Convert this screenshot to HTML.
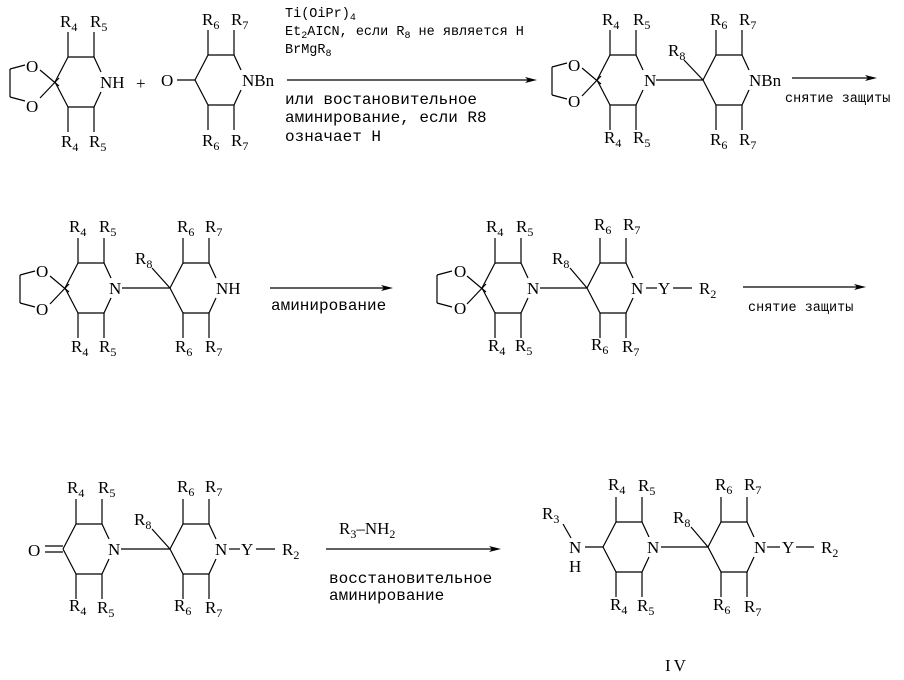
<!DOCTYPE html>
<html><head><meta charset="utf-8"><style>
html,body{margin:0;padding:0;background:#fff;}
svg{display:block}
.s{font-family:"Liberation Serif",serif;font-size:17px;fill:#000}
.m{font-family:"Liberation Mono",monospace;fill:#000}
line,polyline{stroke:#000;stroke-width:1.2;fill:none}
</style></head><body>
<svg width="904" height="680" viewBox="0 0 904 680" xmlns="http://www.w3.org/2000/svg">
<defs>
<g id="ring">
<line x1="0" y1="0" x2="13" y2="-25"/><line x1="13" y1="-25" x2="39" y2="-25"/><line x1="39" y1="-25" x2="46" y2="-10"/>
<line x1="0" y1="0" x2="13" y2="25"/><line x1="13" y1="25" x2="39" y2="25"/><line x1="39" y1="25" x2="46" y2="10"/>
<line x1="13" y1="-25" x2="13" y2="-50"/><line x1="39" y1="-25" x2="39" y2="-50"/>
<line x1="13" y1="25" x2="13" y2="50"/><line x1="39" y1="25" x2="39" y2="50"/>
</g>
<g id="diox">
<line x1="-15" y1="-12" x2="4" y2="4"/><line x1="-15" y1="16" x2="4" y2="-4"/>
<line x1="-45" y1="-13" x2="-45" y2="15"/><line x1="-45" y1="-13" x2="-30" y2="-17"/><line x1="-45" y1="15" x2="-30" y2="19"/>
</g>
<g id="arr"><polygon points="0,0 -12,-3 -9,0 -12,3" fill="#000"/></g>
</defs>

<!-- Ring A -->
<use href="#ring" x="55" y="82"/><use href="#diox" x="55" y="82"/>
<text class="s" x="26" y="72">O</text><text class="s" x="26" y="112">O</text>
<text class="s" x="100" y="88">NH</text>
<text class="s" x="60" y="27">R<tspan font-size="12" dy="4">4</tspan></text>
<text class="s" x="90" y="27">R<tspan font-size="12" dy="4">5</tspan></text>
<text class="s" x="61" y="147">R<tspan font-size="12" dy="4">4</tspan></text>
<text class="s" x="89" y="147">R<tspan font-size="12" dy="4">5</tspan></text>
<text class="s" x="136" y="89" font-size="20">+</text>

<!-- Ring B -->
<use href="#ring" x="195" y="80"/>
<text class="s" x="161" y="86">O</text><line x1="177" y1="80" x2="195" y2="80"/>
<text class="s" x="242" y="86">NBn</text>
<text class="s" x="202" y="25">R<tspan font-size="12" dy="4">6</tspan></text>
<text class="s" x="231" y="25">R<tspan font-size="12" dy="4">7</tspan></text>
<text class="s" x="202" y="146">R<tspan font-size="12" dy="4">6</tspan></text>
<text class="s" x="231" y="146">R<tspan font-size="12" dy="4">7</tspan></text>

<!-- Arrow 1 -->
<line x1="287" y1="80" x2="533" y2="80"/><use href="#arr" x="537" y="80"/>
<text class="m" font-size="13.5" x="285" y="17">Ti(OiPr)<tspan font-size="10" dy="3">4</tspan></text>
<text class="m" font-size="13.5" x="285" y="35">Et<tspan font-size="10" dy="3">2</tspan><tspan dy="-3">AICN, если R</tspan><tspan font-size="10" dy="3">8</tspan><tspan dy="-3"> не является H</tspan></text>
<text class="m" font-size="13.5" x="285" y="53">BrMgR<tspan font-size="10" dy="3">8</tspan></text>
<text class="m" font-size="16" x="285" y="104">или востановительное</text>
<text class="m" font-size="16" x="285" y="122">аминирование, если R8</text>
<text class="m" font-size="16" x="285" y="141">означает H</text>

<!-- Ring C,D -->
<use href="#ring" x="597" y="80"/><use href="#diox" x="597" y="80"/>
<text class="s" x="568" y="71">O</text><text class="s" x="568" y="107">O</text>
<text class="s" x="644" y="86">N</text>
<line x1="656" y1="80" x2="703" y2="80"/>
<text class="s" x="602" y="25">R<tspan font-size="12" dy="4">4</tspan></text>
<text class="s" x="633" y="25">R<tspan font-size="12" dy="4">5</tspan></text>
<text class="s" x="604" y="143">R<tspan font-size="12" dy="4">4</tspan></text>
<text class="s" x="633" y="143">R<tspan font-size="12" dy="4">5</tspan></text>
<use href="#ring" x="703" y="80"/>
<line x1="684" y1="60" x2="703" y2="80"/>
<text class="s" x="668" y="56">R<tspan font-size="12" dy="4">8</tspan></text>
<text class="s" x="749" y="86">NBn</text>
<text class="s" x="710" y="25">R<tspan font-size="12" dy="4">6</tspan></text>
<text class="s" x="739" y="25">R<tspan font-size="12" dy="4">7</tspan></text>
<text class="s" x="710" y="145">R<tspan font-size="12" dy="4">6</tspan></text>
<text class="s" x="739" y="145">R<tspan font-size="12" dy="4">7</tspan></text>
<line x1="792" y1="78" x2="874" y2="78"/><use href="#arr" x="877" y="78"/>
<text class="m" font-size="13.5" x="785" y="102">снятие защиты</text>

<!-- Row 2 left: E,F -->
<use href="#ring" x="65" y="288"/><use href="#diox" x="65" y="288"/>
<text class="s" x="36" y="277">O</text><text class="s" x="36" y="315">O</text>
<text class="s" x="109" y="294">N</text>
<line x1="122" y1="288" x2="170" y2="288"/>
<text class="s" x="69" y="232">R<tspan font-size="12" dy="4">4</tspan></text>
<text class="s" x="99" y="232">R<tspan font-size="12" dy="4">5</tspan></text>
<text class="s" x="71" y="352">R<tspan font-size="12" dy="4">4</tspan></text>
<text class="s" x="99" y="352">R<tspan font-size="12" dy="4">5</tspan></text>
<use href="#ring" x="170" y="288"/>
<line x1="152" y1="268" x2="170" y2="288"/>
<text class="s" x="135" y="264">R<tspan font-size="12" dy="4">8</tspan></text>
<text class="s" x="216" y="294">NH</text>
<text class="s" x="177" y="232">R<tspan font-size="12" dy="4">6</tspan></text>
<text class="s" x="205" y="232">R<tspan font-size="12" dy="4">7</tspan></text>
<text class="s" x="175" y="352">R<tspan font-size="12" dy="4">6</tspan></text>
<text class="s" x="205" y="352">R<tspan font-size="12" dy="4">7</tspan></text>
<line x1="270" y1="288" x2="389" y2="288"/><use href="#arr" x="393" y="288"/>
<text class="m" font-size="16" x="271" y="310">аминирование</text>

<!-- Row 2 right: G,H -->
<use href="#ring" x="482" y="288"/><use href="#diox" x="482" y="288"/>
<text class="s" x="454" y="277">O</text><text class="s" x="454" y="314">O</text>
<text class="s" x="527" y="294">N</text>
<line x1="540" y1="288" x2="587" y2="288"/>
<text class="s" x="486" y="232">R<tspan font-size="12" dy="4">4</tspan></text>
<text class="s" x="516" y="232">R<tspan font-size="12" dy="4">5</tspan></text>
<text class="s" x="488" y="351">R<tspan font-size="12" dy="4">4</tspan></text>
<text class="s" x="515" y="351">R<tspan font-size="12" dy="4">5</tspan></text>
<use href="#ring" x="587" y="288"/>
<line x1="570" y1="268" x2="587" y2="288"/>
<text class="s" x="552" y="264">R<tspan font-size="12" dy="4">8</tspan></text>
<text class="s" x="631" y="294">N</text>
<line x1="646" y1="288" x2="657" y2="288"/>
<text class="s" x="658" y="294">Y</text>
<line x1="673" y1="288" x2="692" y2="288"/>
<text class="s" x="699" y="294">R<tspan font-size="12" dy="4">2</tspan></text>
<text class="s" x="594" y="230">R<tspan font-size="12" dy="4">6</tspan></text>
<text class="s" x="623" y="230">R<tspan font-size="12" dy="4">7</tspan></text>
<text class="s" x="591" y="350">R<tspan font-size="12" dy="4">6</tspan></text>
<text class="s" x="622" y="352">R<tspan font-size="12" dy="4">7</tspan></text>
<line x1="743" y1="287" x2="862" y2="287"/><use href="#arr" x="866" y="287"/>
<text class="m" font-size="13.5" x="748" y="311">снятие защиты</text>

<!-- Row 3 left: I,J -->
<use href="#ring" x="63" y="549"/>
<text class="s" x="28" y="556">O</text>
<line x1="45" y1="546" x2="63" y2="546"/><line x1="45" y1="552" x2="63" y2="552"/>
<text class="s" x="108" y="555">N</text>
<line x1="121" y1="549" x2="170" y2="549"/>
<text class="s" x="67" y="493">R<tspan font-size="12" dy="4">4</tspan></text>
<text class="s" x="98" y="493">R<tspan font-size="12" dy="4">5</tspan></text>
<text class="s" x="69" y="611">R<tspan font-size="12" dy="4">4</tspan></text>
<text class="s" x="97" y="613">R<tspan font-size="12" dy="4">5</tspan></text>
<use href="#ring" x="170" y="549"/>
<line x1="152" y1="529" x2="170" y2="549"/>
<text class="s" x="134" y="525">R<tspan font-size="12" dy="4">8</tspan></text>
<text class="s" x="215" y="555">N</text>
<line x1="229" y1="549" x2="240" y2="549"/>
<text class="s" x="241" y="555">Y</text>
<line x1="256" y1="549" x2="275" y2="549"/>
<text class="s" x="282" y="555">R<tspan font-size="12" dy="4">2</tspan></text>
<text class="s" x="177" y="492">R<tspan font-size="12" dy="4">6</tspan></text>
<text class="s" x="205" y="492">R<tspan font-size="12" dy="4">7</tspan></text>
<text class="s" x="174" y="611">R<tspan font-size="12" dy="4">6</tspan></text>
<text class="s" x="205" y="613">R<tspan font-size="12" dy="4">7</tspan></text>
<line x1="326" y1="549" x2="497" y2="549"/><use href="#arr" x="501" y="549"/>
<text class="s" x="339" y="534">R<tspan font-size="12" dy="4">3</tspan><tspan dy="-4">–NH</tspan><tspan font-size="12" dy="4">2</tspan></text>
<text class="m" font-size="16" x="329" y="583">восстановительное</text>
<text class="m" font-size="16" x="329" y="600">аминирование</text>

<!-- Row 3 right: K,L -->
<use href="#ring" x="603" y="547"/>
<text class="s" x="569" y="553">N</text>
<text class="s" x="569" y="572">H</text>
<line x1="585" y1="547" x2="603" y2="547"/>
<line x1="563" y1="524" x2="571" y2="538"/>
<text class="s" x="542" y="519">R<tspan font-size="12" dy="4">3</tspan></text>
<text class="s" x="647" y="553">N</text>
<line x1="661" y1="547" x2="708" y2="547"/>
<text class="s" x="608" y="490">R<tspan font-size="12" dy="4">4</tspan></text>
<text class="s" x="638" y="491">R<tspan font-size="12" dy="4">5</tspan></text>
<text class="s" x="610" y="610">R<tspan font-size="12" dy="4">4</tspan></text>
<text class="s" x="637" y="611">R<tspan font-size="12" dy="4">5</tspan></text>
<use href="#ring" x="708" y="547"/>
<line x1="691" y1="527" x2="708" y2="547"/>
<text class="s" x="673" y="523">R<tspan font-size="12" dy="4">8</tspan></text>
<text class="s" x="754" y="553">N</text>
<line x1="767" y1="547" x2="780" y2="547"/>
<text class="s" x="782" y="553">Y</text>
<line x1="796" y1="547" x2="814" y2="547"/>
<text class="s" x="821" y="553">R<tspan font-size="12" dy="4">2</tspan></text>
<text class="s" x="715" y="490">R<tspan font-size="12" dy="4">6</tspan></text>
<text class="s" x="744" y="490">R<tspan font-size="12" dy="4">7</tspan></text>
<text class="s" x="713" y="610">R<tspan font-size="12" dy="4">6</tspan></text>
<text class="s" x="744" y="612">R<tspan font-size="12" dy="4">7</tspan></text>
<text class="s" x="665" y="671" letter-spacing="3">IV</text>
</svg>
</body></html>
